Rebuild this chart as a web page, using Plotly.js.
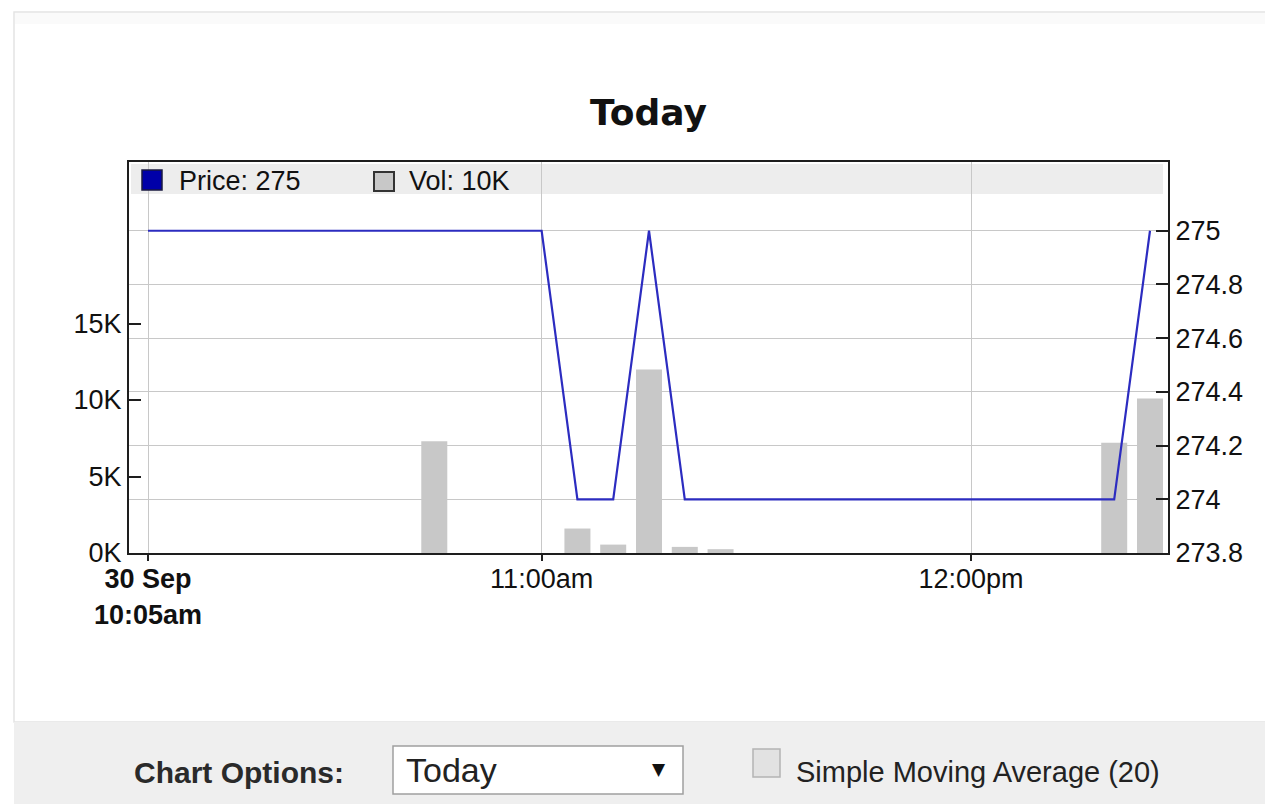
<!DOCTYPE html>
<html>
<head>
<meta charset="utf-8">
<script src="https://cdn.plot.ly/plotly-3.0.1.min.js"></script>
<style>
  html, body { margin: 0; padding: 0; background: #ffffff; }
  #chart { width: 1265px; height: 804px; }
</style>
</head>
<body>
<div id="chart"></div>
<script>
// ---- data ----
const priceTimes = ['2014-09-30 10:05', '2014-09-30 11:00', '2014-09-30 11:05', '2014-09-30 11:10',
                    '2014-09-30 11:15', '2014-09-30 11:20', '2014-09-30 12:20', '2014-09-30 12:25'];
const prices = [275, 275, 274, 274, 275, 274, 274, 275];

const volTimes = ['2014-09-30 10:45', '2014-09-30 11:05', '2014-09-30 11:10', '2014-09-30 11:15',
                  '2014-09-30 11:20', '2014-09-30 11:25', '2014-09-30 12:20', '2014-09-30 12:25'];
const volumes = [7300, 1600, 550, 12000, 400, 250, 7200, 10100];

const xTickVals = ['2014-09-30 10:05', '2014-09-30 11:00', '2014-09-30 12:00'];
const xTickText = ['<b>30 Sep<br>10:05am</b>', '11:00am', '12:00pm'];

const volTickVals = [0, 5000, 10000, 15000];
const volTickText = ['0K', '5K', '10K', '15K'];

const priceTickVals = [273.8, 274, 274.2, 274.4, 274.6, 274.8, 275];
const priceTickText = ['273.8', '274', '274.2', '274.4', '274.6', '274.8', '275'];

const chartTitle = 'Today';
const selectOption = 'Today';
const optionsLabel = 'Chart Options:';
const smaLabel = 'Simple Moving Average (20)';

// ---- layout helpers (pixel -> paper) ----
const W = 1265, H = 804;
const M = { l: 129, r: 97, t: 162, b: 251 };
const PW = W - M.l - M.r, PH = H - M.t - M.b;
const px = x => (x - M.l) / PW;
const py = y => (H - M.b - y) / PH;

const FONT = 'Liberation Sans, Arial, Helvetica, sans-serif';
const lastPrice = prices[prices.length - 1];
const lastVol = volumes[volumes.length - 1];

const traces = [
  {
    type: 'bar', x: volTimes, y: volumes, yaxis: 'y', xaxis: 'x',
    width: 218000,
    marker: { color: '#c8c8c8', line: { width: 0 } },
    hoverinfo: 'skip', showlegend: false
  },
  {
    type: 'scatter', mode: 'lines', x: priceTimes, y: prices, yaxis: 'y2', xaxis: 'x',
    line: { color: '#2c2cc0', width: 2.2 },
    hoverinfo: 'skip', showlegend: false
  }
];

const shapes = [
  // page frame
  { type: 'rect', xref: 'paper', yref: 'paper', x0: px(14), x1: px(1275), y0: py(12), y1: py(722),
    line: { color: '#e4e4e4', width: 1.5 }, fillcolor: 'rgba(0,0,0,0)', layer: 'below' },
  { type: 'rect', xref: 'paper', yref: 'paper', x0: px(15), x1: px(1275), y0: py(13), y1: py(24),
    line: { width: 0 }, fillcolor: '#fafafa', layer: 'below' },
  // bottom options bar
  { type: 'rect', xref: 'paper', yref: 'paper', x0: px(14), x1: px(1275), y0: py(722), y1: py(810),
    line: { width: 0 }, fillcolor: '#efefef', layer: 'below' },
  // legend band
  { type: 'rect', xref: 'paper', yref: 'paper', x0: px(131), x1: px(1163), y0: py(164), y1: py(194),
    line: { width: 0 }, fillcolor: '#ededed', layer: 'between' },
  // legend swatches
  { type: 'rect', xref: 'paper', yref: 'paper', x0: px(142), x1: px(162), y0: py(170), y1: py(190),
    line: { color: '#1a1a40', width: 1.5 }, fillcolor: '#0000a8', layer: 'above' },
  { type: 'rect', xref: 'paper', yref: 'paper', x0: px(374), x1: px(394), y0: py(172), y1: py(191),
    line: { color: '#333333', width: 2 }, fillcolor: '#c8c8c8', layer: 'above' },
  // select box
  { type: 'rect', xref: 'paper', yref: 'paper', x0: px(393), x1: px(683), y0: py(746), y1: py(794),
    line: { color: '#a0a0a0', width: 1.5 }, fillcolor: '#ffffff', layer: 'above' },
  // checkbox
  { type: 'rect', xref: 'paper', yref: 'paper', x0: px(753), x1: px(780), y0: py(749), y1: py(777),
    line: { color: '#b4b4b4', width: 1.5 }, fillcolor: '#e2e2e2', layer: 'above' }
];

const annotations = [
  { xref: 'paper', yref: 'paper', x: px(177), y: py(181), xanchor: 'left', yanchor: 'middle',
    text: 'Price: ' + lastPrice, showarrow: false, font: { family: FONT, size: 27, color: '#111' } },
  { xref: 'paper', yref: 'paper', x: px(407), y: py(181), xanchor: 'left', yanchor: 'middle',
    text: 'Vol: ' + Math.round(lastVol / 1000) + 'K', showarrow: false, font: { family: FONT, size: 27, color: '#111' } },
  { xref: 'paper', yref: 'paper', x: px(132), y: py(772), xanchor: 'left', yanchor: 'middle',
    text: '<b>' + optionsLabel + '</b>', showarrow: false, font: { family: FONT, size: 30, color: '#2a2a2a' } },
  { xref: 'paper', yref: 'paper', x: px(404), y: py(770), xanchor: 'left', yanchor: 'middle',
    text: selectOption, showarrow: false, font: { family: FONT, size: 34, color: '#222' } },
  { xref: 'paper', yref: 'paper', x: px(659), y: py(769), xanchor: 'center', yanchor: 'middle',
    text: '▼', showarrow: false, font: { family: 'DejaVu Sans, sans-serif', size: 17, color: '#111' } },
  { xref: 'paper', yref: 'paper', x: px(794), y: py(772), xanchor: 'left', yanchor: 'middle',
    text: smaLabel, showarrow: false, font: { family: FONT, size: 29, color: '#222' } }
];

const layout = {
  width: W, height: H,
  margin: M,
  paper_bgcolor: '#ffffff', plot_bgcolor: '#ffffff',
  font: { family: FONT, size: 27, color: '#111' },
  showlegend: false,
  title: { text: '<b>' + chartTitle + '</b>', x: 0.5, xref: 'paper', xanchor: 'center',
           y: 1 - 112 / H, yref: 'container', yanchor: 'middle',
           font: { family: 'DejaVu Sans, sans-serif', size: 36, color: '#111' } },
  xaxis: {
    type: 'date',
    range: ['2014-09-30 10:02:20.7', '2014-09-30 12:27:31'],
    tickvals: xTickVals, ticktext: xTickText, tickangle: 0,
    ticks: 'outside', ticklen: 6, tickwidth: 2, tickcolor: '#222',
    ticklabelstandoff: -5,
    showgrid: true, gridcolor: '#c8c8c8', gridwidth: 1,
    showline: true, mirror: true, linecolor: '#1e1e1e', linewidth: 2,
    zeroline: false, fixedrange: true,
    tickfont: { family: FONT, size: 27, color: '#111' }
  },
  yaxis: {
    range: [0, 25560],
    tickvals: volTickVals, ticktext: volTickText,
    ticks: 'inside', ticklen: 12, tickwidth: 2, tickcolor: '#1e1e1e',
    showgrid: false, zeroline: false,
    showline: true, linecolor: '#1e1e1e', linewidth: 2,
    ticklabelstandoff: 0,
    tickfont: { family: FONT, size: 27, color: '#111' },
    fixedrange: true
  },
  yaxis2: {
    overlaying: 'y', side: 'right',
    range: [273.8, 275.256],
    tickvals: priceTickVals, ticktext: priceTickText,
    ticks: 'inside', ticklen: 12, tickwidth: 2, tickcolor: '#1e1e1e',
    showgrid: true, gridcolor: '#c8c8c8', gridwidth: 1, zeroline: false,
    showline: true, linecolor: '#1e1e1e', linewidth: 2,
    ticklabelstandoff: 0,
    tickfont: { family: FONT, size: 27, color: '#111' },
    fixedrange: true
  },
  shapes: shapes,
  annotations: annotations
};

Plotly.newPlot('chart', traces, layout, { staticPlot: true, displayModeBar: false });
</script>
</body>
</html>
